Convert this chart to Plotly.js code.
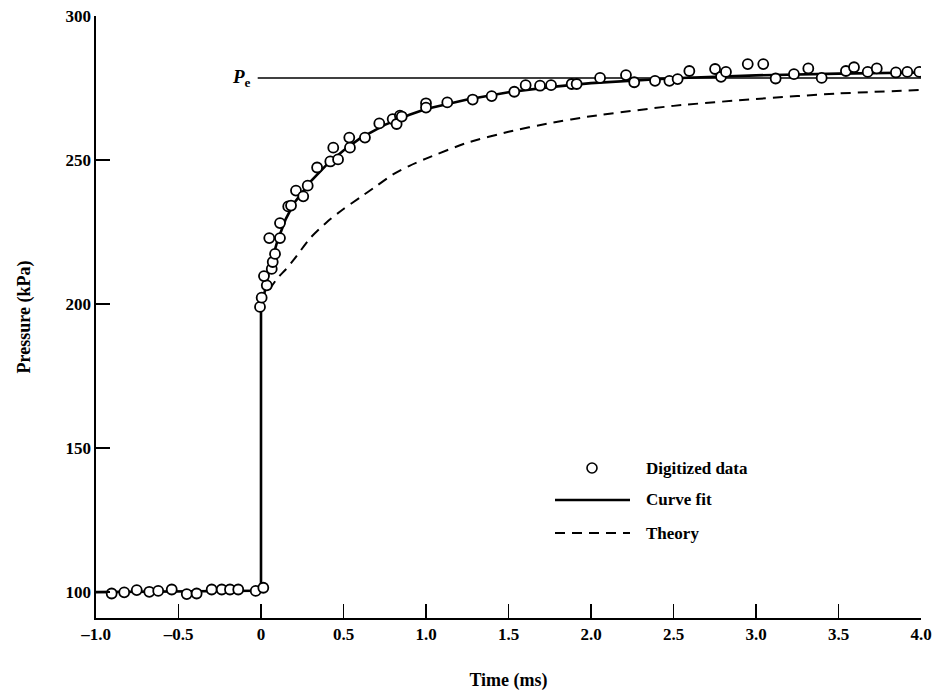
<!DOCTYPE html>
<html>
<head>
<meta charset="utf-8">
<script src="https://cdn.plot.ly/plotly-3.0.1.min.js"></script>
<style>html,body{margin:0;padding:0;background:#fff;}#chart{width:944px;height:696px;}</style>
</head>
<body>
<div id="chart"></div>
<script>
const dataTime = [-0.905,-0.829,-0.753,-0.677,-0.623,-0.541,-0.450,-0.390,-0.299,-0.238,-0.188,-0.138,-0.032,0.014,
  -0.006,0.004,0.035,0.018,0.065,0.071,0.085,0.050,0.115,0.115,0.165,0.182,0.212,0.256,0.283,0.340,0.420,
  0.438,0.467,0.535,0.539,0.630,0.717,0.798,0.842,0.822,0.853,1.000,1.000,1.129,1.283,1.398,
  1.535,1.604,1.691,1.758,1.883,1.913,2.055,2.212,2.262,2.388,
  2.475,2.525,2.596,2.752,2.788,2.818,2.950,3.044,3.119,3.230,3.317,3.398,3.545,3.594,3.677,3.732,3.848,3.917,3.990];
const dataPressure = [99.5,99.9,100.7,100.1,100.4,100.9,99.3,99.5,100.9,100.9,100.9,100.9,100.4,101.5,
  199.0,202.2,206.5,209.7,212.2,214.6,217.4,222.9,222.9,228.1,233.9,234.2,239.4,237.4,241.1,247.4,249.5,
  254.3,250.2,257.8,254.3,257.8,262.7,264.2,265.4,262.5,265.1,269.7,268.2,270.0,271.0,272.2,
  273.7,276.0,275.8,276.0,276.4,276.4,278.5,279.5,277.0,277.5,
  277.5,278.1,280.9,281.6,278.9,280.6,283.3,283.3,278.3,279.8,281.8,278.5,280.9,282.2,280.6,281.8,280.4,280.6,280.6];

// Curve fit
const fitTime = [-1.0,-0.5,0,0,0.05,0.1,0.15,0.2,0.3,0.4,0.5,0.6,0.75,0.9,1.0,1.25,1.5,1.75,2.0,2.5,3.0,3.5,4.0];
const fitPressure = [100,100.3,100.5,198,212,222,229.5,235,242.5,248.5,253.3,257.5,262.2,265.7,267.7,271,273.5,275.3,276.7,278.4,279.4,280,280.4];

// Theory
const theoryTime = [0.05,0.1,0.15,0.2,0.3,0.4,0.5,0.6,0.7,0.8,0.9,1.0,1.25,1.5,1.75,2.0,2.5,3.0,3.5,4.0];
const theoryPressure = [205,209,212,215.5,223,228.5,233,237,241,245,248,250.5,256,259.8,262.8,265.2,268.8,271.2,273.1,274.3];

// Equilibrium pressure line
const peTime = [-0.02, 4.0];
const pePressure = [278.5, 278.5];

const xTickVals = [-1.0,-0.5,0,0.5,1.0,1.5,2.0,2.5,3.0,3.5,4.0];
const xTickText = ['\u20131.0','\u20130.5','0','0.5','1.0','1.5','2.0','2.5','3.0','3.5','4.0'];
const yTickVals = [100,150,200,250,300];
const legendLabels = ['Digitized data','Curve fit','Theory'];

const FONT = 'Liberation Serif, Times New Roman, serif';

const traces = [
  {x: peTime, y: pePressure, mode:'lines', line:{color:'#000', width:1.5}, hoverinfo:'skip', showlegend:false},
  {x: theoryTime, y: theoryPressure, mode:'lines', line:{color:'#000', width:2, dash:'10px,7px', shape:'spline', smoothing:0.6}, showlegend:false},
  {x: fitTime, y: fitPressure, mode:'lines', line:{color:'#000', width:2.6}, showlegend:false},
  {x: dataTime, y: dataPressure, mode:'markers', marker:{symbol:'circle', size:10, color:'#fff', line:{color:'#000', width:1.8}}, showlegend:false}
];

// pixel helpers for the hand-built legend (paper coordinates)
const L=96, R=921, T=16, B=618;
const px = v => (v-L)/(R-L);
const py = v => (B-v)/(B-T);

const shapes = [
  {type:'circle', xref:'paper', yref:'paper', xsizemode:'pixel', ysizemode:'pixel', xanchor:px(592), yanchor:py(468), x0:-5, x1:5, y0:-5, y1:5, line:{color:'#000', width:1.6}, fillcolor:'#fff'},
  {type:'line', xref:'paper', yref:'paper', x0:px(555), x1:px(630), y0:py(500), y1:py(500), line:{color:'#000', width:2.6}},
  {type:'line', xref:'paper', yref:'paper', x0:px(555), x1:px(630), y0:py(533), y1:py(533), line:{color:'#000', width:2, dash:'10px,7px'}}
];

const annotations = [
  {xref:'paper', yref:'paper', x:px(644), y:py(468), xanchor:'left', yanchor:'middle', text:legendLabels[0], showarrow:false, font:{family:FONT, size:17, color:'#000', weight:'bold'}},
  {xref:'paper', yref:'paper', x:px(644), y:py(500), xanchor:'left', yanchor:'middle', text:legendLabels[1], showarrow:false, font:{family:FONT, size:17, color:'#000', weight:'bold'}},
  {xref:'paper', yref:'paper', x:px(644), y:py(533), xanchor:'left', yanchor:'middle', text:legendLabels[2], showarrow:false, font:{family:FONT, size:17, color:'#000', weight:'bold'}},
  {xref:'paper', yref:'paper', x:px(253), y:py(78), xanchor:'right', yanchor:'middle', text:'<i>P</i><sub>e</sub>', showarrow:false, font:{family:FONT, size:19, color:'#000', weight:'bold'}}
];

const layout = {
  width:944, height:696,
  margin:{l:L, r:944-R, t:T, b:696-B},
  paper_bgcolor:'#fff', plot_bgcolor:'#fff',
  showlegend:false,
  font:{family:FONT, color:'#000'},
  xaxis:{
    range:[-1,4], tickmode:'array', tickvals:xTickVals, ticktext:xTickText,
    ticks:'inside', ticklen:14, tickwidth:1.2, tickcolor:'#000',
    showline:true, linecolor:'#000', linewidth:1.6, showgrid:false, zeroline:false,
    tickfont:{family:FONT, size:17, color:'#000', weight:'bold'},
    title:{text:'Time (ms)', font:{family:FONT, size:18, color:'#000', weight:'bold'}, standoff:30}
  },
  yaxis:{
    range:[91,300], tickmode:'array', tickvals:yTickVals,
    ticks:'inside', ticklen:14, tickwidth:1.2, tickcolor:'#000',
    showline:true, linecolor:'#000', linewidth:1.6, showgrid:false, zeroline:false,
    tickfont:{family:FONT, size:17, color:'#000', weight:'bold'},
    title:{text:'Pressure (kPa)', font:{family:FONT, size:18, color:'#000', weight:'bold'}, standoff:30}
  },
  shapes:shapes,
  annotations:annotations
};

Plotly.newPlot('chart', traces, layout, {displayModeBar:false, staticPlot:true});
</script>
</body>
</html>
